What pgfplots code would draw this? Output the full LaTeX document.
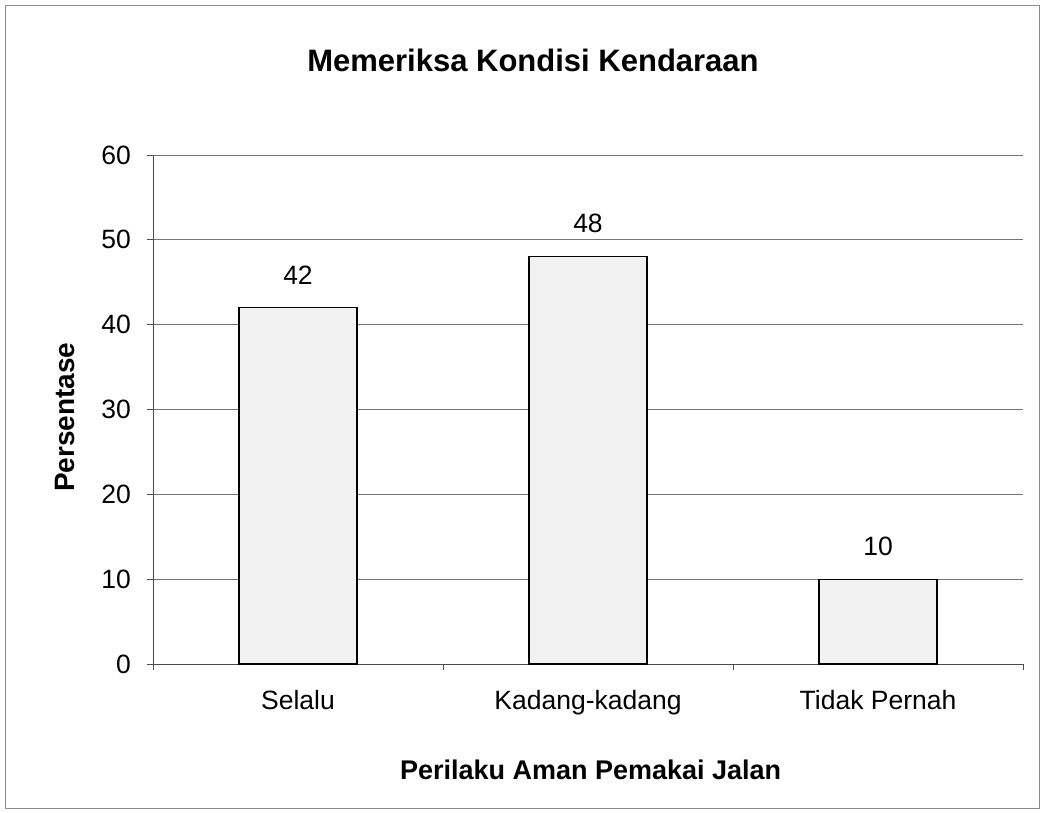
\documentclass[border=0pt]{standalone}
\usepackage{fontspec}
\setmainfont{Liberation Sans}
\usepackage{pgfplots}
\pgfplotsset{compat=1.18}
\begin{document}
\begin{tikzpicture}
\useasboundingbox (-153pt,-149pt) rectangle (891pt,664pt);
\draw[black!45, line width=0.6pt] (-148pt,-144pt) rectangle (886pt,659pt);
\begin{axis}[
  at={(0pt,0pt)}, anchor=south west,
  scale only axis, width=870pt, height=509pt,
  xmin=-0.5, xmax=2.5, ymin=0, ymax=60,
  ytick={0,10,...,60},
  xtick={-0.5,0.5,1.5,2.5}, xticklabels={},
  extra x ticks={0,1,2},
  extra x tick labels={Selalu,Kadang-kadang,Tidak Pernah},
  extra x tick style={major tick length=0pt},
  axis x line*=bottom, axis y line*=left,
  axis line style={-, black!70, line width=0.8pt},
  tick align=outside, major tick length=6pt,
  tick style={black!70, line width=0.8pt},
  ymajorgrids, major grid style={black!55, line width=0.7pt},
  /pgf/number format/assume math mode=true,
  tick label style={font=\fontsize{26.5}{30}\selectfont},
  yticklabel style={inner sep=0pt, xshift=-16pt},
  xticklabel style={inner sep=0pt, yshift=-26pt},
  ylabel={Persentase},
  ylabel style={at={(rel axis cs:-0.101,0.485)}, anchor=center, rotate=0, font=\fontsize{28}{32}\bfseries},
  xlabel={Perilaku Aman Pemakai Jalan},
  xlabel style={at={(rel axis cs:0.503,-0.208)}, anchor=center, font=\fontsize{27}{32}\bfseries},
  ybar, bar width=118pt,
  nodes near coords,
  every node near coord/.append style={font=\fontsize{26.5}{30}\selectfont, anchor=south, inner sep=0pt, yshift=23pt},
  clip=false,
]
\addplot[fill=black!5, draw=black, line width=1.3pt] coordinates {(0,42) (1,48) (2,10)};
\node[font=\fontsize{31}{36}\bfseries, anchor=center] at (rel axis cs:0.4368,1.1866) {Memeriksa Kondisi Kendaraan};
\end{axis}
\end{tikzpicture}
\end{document}
